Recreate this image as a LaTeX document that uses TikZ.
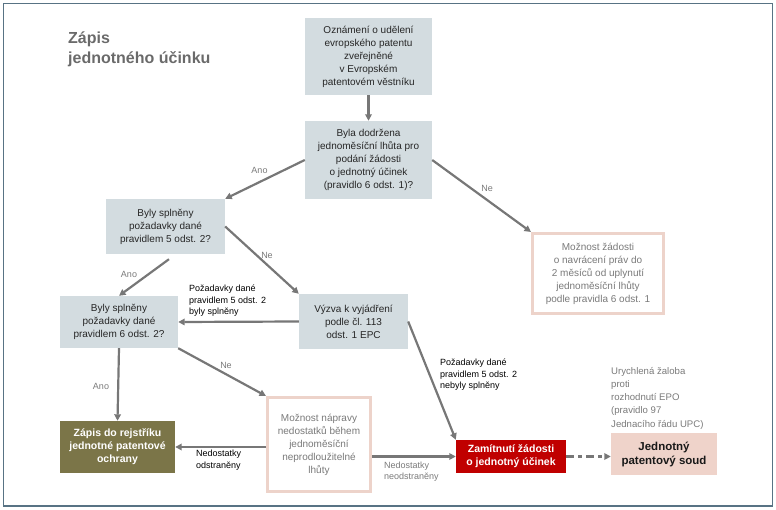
\documentclass[tikz,border=0pt]{standalone}
\usepackage{fontspec}
\setmainfont{Liberation Sans}
\usetikzlibrary{arrows.meta}
\definecolor{boxgray}{HTML}{D3DCE0}
\definecolor{pinkline}{HTML}{EDD3CA}
\definecolor{pinkfill}{HTML}{EFD3CA}
\definecolor{olive}{HTML}{7B7548}
\definecolor{redbox}{HTML}{C00000}
\definecolor{arrowgray}{HTML}{777777}
\definecolor{framecol}{HTML}{587384}
\definecolor{txtgray}{HTML}{7A7A7A}
\definecolor{titlegray}{HTML}{6A6A6A}
\begin{document}
\begin{tikzpicture}[x=1pt,y=-1pt,
  graybox/.style={fill=boxgray, inner sep=0pt, align=center, text=black!85,
    font=\fontsize{10}{13}\selectfont},
  pinkbox/.style={draw=pinkline, line width=3pt, fill=white, inner sep=0pt, align=center,
    text=txtgray, font=\fontsize{10}{13}\selectfont},
  flow/.style={draw=arrowgray, line width=2.2pt, -{Triangle[length=6.5pt,width=6.5pt]}},
  choice/.style={text=txtgray, font=\fontsize{9}{11}\selectfont, inner sep=0pt},
  note/.style={font=\fontsize{9}{11.5}\selectfont, inner sep=0pt, align=left, anchor=north west}
]
\useasboundingbox (0,0) rectangle (776,510);
\draw[framecol, line width=1.5pt] (3.5,3.5) rectangle (772.5,506);

\node[anchor=north west, inner sep=0pt, align=left, text=titlegray,
  font=\fontsize{16}{20}\bfseries] (title) at (68,32) {Zápis\\jednotného účinku};

\node[graybox, minimum width=127pt, minimum height=77pt] (top) at (368.5,56.5)
  {Oznámení o udělení\\evropského patentu\\zveřejněné\\v Evropském\\patentovém věstníku};
\node[graybox, minimum width=127pt, minimum height=78pt] (q1) at (368.5,160)
  {Byla dodržena\\jednoměsíční lhůta pro\\podání žádosti\\o jednotný účinek\\(pravidlo 6 odst. 1)?};
\node[graybox, minimum width=119pt, minimum height=55pt] (q2) at (165.5,226.5)
  {Byly splněny\\požadavky dané\\pravidlem 5 odst. 2?};
\node[pinkbox, minimum width=131pt, minimum height=80pt] (nav) at (598,273.5)
  {Možnost žádosti\\o navrácení práv do\\2 měsíců od uplynutí\\jednoměsíční lhůty\\podle pravidla 6 odst. 1};
\node[graybox, minimum width=118pt, minimum height=52pt] (q3) at (119,322)
  {Byly splněny\\požadavky dané\\pravidlem 6 odst. 2?};
\node[graybox, minimum width=109pt, minimum height=55pt] (vyzva) at (353.5,321.5)
  {Výzva k vyjádření\\podle čl. 113\\odst. 1 EPC};
\node[fill=olive, text=white, inner sep=0pt, align=center, minimum width=115pt, minimum height=52pt,
  font=\fontsize{10.5}{13}\bfseries] (zapis) at (117.5,447)
  {Zápis do rejstříku\\jednotné patentové\\ochrany};
\node[pinkbox, minimum width=103pt, minimum height=94pt] (naprava) at (319,444.5)
  {Možnost nápravy\\nedostatků během\\jednoměsíční\\neprodloužitelné\\lhůty};
\node[fill=redbox, text=white, inner sep=0pt, align=center, minimum width=110pt, minimum height=33pt,
  font=\fontsize{10.5}{13}\bfseries] (zam) at (511,456.5)
  {Zamítnutí žádosti\\o jednotný účinek};
\node[fill=pinkfill, text=black!90, inner sep=0pt, align=center, minimum width=106pt, minimum height=42pt,
  font=\fontsize{11.5}{14}\bfseries] (soud) at (664,454)
  {Jednotný\\patentový soud};

% connectors
\draw[flow] (top.south) -- (q1.north);
\draw[flow] (q1.west) -- (q2.north east);
\draw[flow] (q1.east) -- (nav.north west);
\draw[flow] (q2.east) -- (vyzva.north west);
\coordinate (q2out) at ([xshift=3.5pt,yshift=-5pt]q2.south);
\draw[flow] (q2out) -- (q3.north);
\draw[flow] (vyzva.west) -- (q3.east);
\draw[flow] (vyzva.east) -- (zam.north west);
\draw[flow] (q3.south) -- (zapis.north);
\draw[flow] (q3.south east) -- (naprava.north west);
\draw[flow] (naprava.west |- zapis.east) -- (zapis.east);
\draw[flow] (naprava.east |- zam.west) -- (zam.west);
\draw[draw=arrowgray, line width=2.2pt, dash pattern=on 8pt off 4pt on 4pt off 4pt,
  -{Triangle[length=6.5pt,width=6.5pt]}] (zam.east) -- (soud.west |- zam.east);

% choice labels
\node[choice] (l1) at (259.5,170) {Ano};
\node[choice] (l2) at (487,188) {Ne};
\node[choice] (l3) at (267,255) {Ne};
\node[choice] (l4) at (129,274) {Ano};
\node[choice] (l5) at (226,365) {Ne};
\node[choice] (l6) at (101,386) {Ano};

% notes
\node[note] (n1) at (189,285) {Požadavky dané\\pravidlem 5 odst. 2\\byly splněny};
\node[note] (n2) at (440,359) {Požadavky dané\\pravidlem 5 odst. 2\\nebyly splněny};
\node[note, text=txtgray, font=\fontsize{9.6}{13.2}\selectfont] (n3) at (611,367)
  {Urychlená žaloba\\proti\\rozhodnutí EPO\\(pravidlo 97\\Jednacího řádu UPC)};
\node[note, font=\fontsize{9}{12}\selectfont] (n4) at (196,450) {Nedostatky\\odstraněny};
\node[note, text=txtgray, font=\fontsize{9}{11}\selectfont] (n5) at (384,462) {Nedostatky\\neodstraněny};
\end{tikzpicture}
\end{document}
